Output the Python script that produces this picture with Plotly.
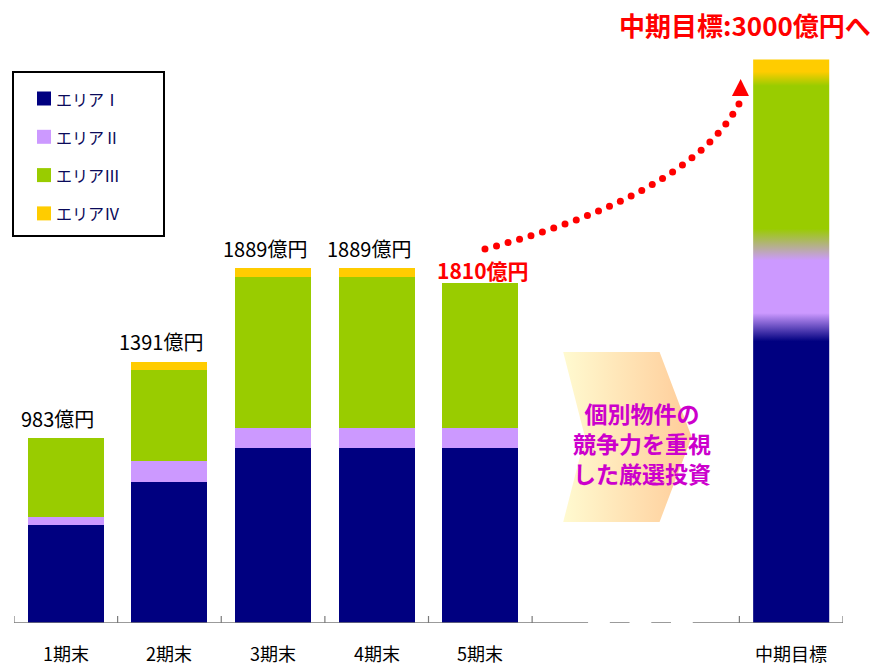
import numpy as np
import plotly.graph_objects as go

# ---- data (億円) ----
categories = ["1期末", "2期末", "3期末", "4期末", "5期末", "中期目標"]
cat_pos = [0, 1, 2, 3, 4, 7]
series_names = ["エリアⅠ", "エリアⅡ", "エリアⅢ", "エリアⅣ"]
area1 = [524, 752, 932, 932, 932, 1500]
area2 = [39, 108, 108, 108, 108, 600]
area3 = [420, 488, 801, 801, 770, 750]
area4 = [0, 43, 48, 48, 0, 150]
totals = [983, 1391, 1889, 1889, 1810, 3000]

series = [area1, area2, area3, area4]
colors = ["#000080", "#CC99FF", "#99CC00", "#FFCC00"]

# ---- layout constants ----
W, H = 884, 666
ML, MR, MT, MB = 14, 41, 22, 43
X_RANGE = [-0.5, 7.5]
Y_RANGE = [0, 3200]
BAR_WIDTH = 0.734
FONT = "Noto Sans CJK JP"

plot_w = W - ML - MR
plot_h = H - MT - MB
px_per_x = plot_w / (X_RANGE[1] - X_RANGE[0])
px_per_y = plot_h / (Y_RANGE[1] - Y_RANGE[0])


def paper_x(p):
    return (p - ML) / plot_w


def paper_y(p):
    return (H - MB - p) / plot_h


fig = go.Figure()

# ---- stacked bars for the actual periods ----
n_actual = 5
for name, vals, col in zip(series_names, series, colors):
    fig.add_trace(go.Bar(
        x=cat_pos[:n_actual], y=vals[:n_actual], name=name,
        marker=dict(color=col, line=dict(width=0)),
        width=BAR_WIDTH, showlegend=False, hoverinfo="skip",
    ))

# ---- target bar: stacked segments blended with a vertical gradient ----
tgt = [s[-1] for s in series]
tgt_total = totals[-1]
c1 = tgt[0]
c2 = c1 + tgt[1]
c3 = c2 + tgt[2]
grad_stops = [
    (0, colors[0]), (c1, colors[0]), (c1 + 150, colors[1]),
    (c2 - 170, colors[1]), (c2, colors[2]),
    (c3 + 10, colors[2]), (c3 + 85, colors[3]), (tgt_total, colors[3]),
]
tx = cat_pos[-1]
hw = BAR_WIDTH / 2
fig.add_trace(go.Scatter(
    x=[tx - hw, tx + hw, tx + hw, tx - hw, tx - hw],
    y=[0, 0, tgt_total, tgt_total, 0],
    mode="lines", fill="toself", line=dict(width=0),
    fillgradient=dict(
        type="vertical", start=0, stop=tgt_total,
        colorscale=[[v / tgt_total, c] for v, c in grad_stops],
    ),
    showlegend=False, hoverinfo="skip",
))

# ---- chevron with message ----
chev_x = [4.80, 5.73, 6.04, 5.73, 4.80, 5.01, 4.80]
chev_y = [1443, 1443, 990, 538, 538, 990, 1443]
fig.add_trace(go.Scatter(
    x=chev_x, y=chev_y, mode="lines", fill="toself", line=dict(width=0),
    fillgradient=dict(type="horizontal", start=4.80, stop=6.04,
                      colorscale=[[0, "#FFFAD0"], [1, "#FFCC99"]]),
    showlegend=False, hoverinfo="skip",
))

# ---- dotted curved arrow toward the target ----
p0 = np.array([cat_pos[4] + 0.045, totals[4] + 181.0])
p2 = np.array([cat_pos[5] - 0.504, totals[5] - 237.0])
p1 = np.array([p2[0] - 0.472, p0[1] + 293.0])
t = np.linspace(0, 1, 2001)[:, None]
curve = (1 - t) ** 2 * p0 + 2 * (1 - t) * t * p1 + t ** 2 * p2
cx_px = curve[:, 0] * px_per_x
cy_px = curve[:, 1] * px_per_y
seg = np.hypot(np.diff(cx_px), np.diff(cy_px))
arc = np.concatenate([[0], np.cumsum(seg)])
s = np.linspace(0, arc[-1], 26)
dots_x = np.interp(s, arc, curve[:, 0])
dots_y = np.interp(s, arc, curve[:, 1])
fig.add_trace(go.Scatter(
    x=dots_x, y=dots_y, mode="markers",
    marker=dict(size=7, color="#FF0000", line=dict(width=0)),
    showlegend=False, hoverinfo="skip",
))
base_cx = p2[0] + 1.5 / px_per_x
base_cy = p2[1] + 8 / px_per_y
head_hw = 8.5 / px_per_x
head_h = 17 / px_per_y
fig.add_trace(go.Scatter(
    x=[base_cx - head_hw, base_cx + head_hw, base_cx + 0.2 / px_per_x, base_cx - head_hw],
    y=[base_cy, base_cy, base_cy + head_h, base_cy],
    mode="lines", fill="toself", fillcolor="#FF0000", line=dict(width=0),
    showlegend=False, hoverinfo="skip",
))

shapes = []
annotations = []

# ---- broken category axis ----
axis_color = "#7A7A7A"
for a, b in [(-0.5, 5.04), (5.25, 5.44), (5.65, 5.84), (6.05, 7.5)]:
    shapes.append(dict(type="line", xref="x", yref="y", x0=a, x1=b, y0=0, y1=0,
                       line=dict(color=axis_color, width=1.5)))
tick_len = 7 / px_per_y
for xt in [-0.5, 0.5, 1.5, 2.5, 3.5, 4.5, 6.5, 7.5]:
    shapes.append(dict(type="line", xref="x", yref="y", x0=xt, x1=xt, y0=0, y1=tick_len,
                       line=dict(color=axis_color, width=1.2)))

for cp, cat in zip(cat_pos, categories):
    annotations.append(dict(x=cp, y=0, xref="x", yref="y", text=cat, showarrow=False,
                            yanchor="middle", yshift=-30,
                            font=dict(family=FONT, size=18, color="#000000")))

# ---- total labels ----
for i in range(n_actual):
    last = i == n_actual - 1
    annotations.append(dict(
        x=cat_pos[i], y=totals[i], xref="x", yref="y",
        text=f"{totals[i]}億円", showarrow=False, yanchor="middle",
        xshift=3 if last else -8, yshift=13 if last else 20,
        font=dict(family=FONT, size=21 if last else 20,
                  color="#FF0000" if last else "#000000",
                  weight=700 if last else 400),
    ))

annotations.append(dict(
    x=paper_x(745), y=1, xref="paper", yref="paper", yshift=-2,
    text=f"中期目標:{totals[-1]}億円へ", showarrow=False,
    xanchor="center", yanchor="middle",
    font=dict(family=FONT, size=26, color="#FF0000", weight=700),
))

annotations.append(dict(
    x=5.56, y=958, xref="x", yref="y", showarrow=False,
    xanchor="center", yanchor="middle",
    text="個別物件の<br>競争力を重視<br>した厳選投資",
    font=dict(family=FONT, size=23, color="#CC00CC", weight=700),
))

# ---- legend ----
shapes.append(dict(type="rect", xref="paper", yref="paper",
                   x0=paper_x(13), x1=paper_x(164), y0=paper_y(236), y1=paper_y(72),
                   line=dict(color="#000000", width=2), fillcolor="rgba(0,0,0,0)"))
for k, (name, col) in enumerate(zip(series_names, colors)):
    cy = 98.5 + k * 38.3
    shapes.append(dict(type="rect", xref="paper", yref="paper",
                       x0=paper_x(37), x1=paper_x(51), y0=paper_y(cy + 7), y1=paper_y(cy - 7),
                       line=dict(width=0), fillcolor=col))
    annotations.append(dict(x=paper_x(54), y=paper_y(cy), xref="paper", yref="paper",
                            text=name, showarrow=False, xanchor="left", yanchor="middle",
                            font=dict(family=FONT, size=16, color="#0A0A5A")))

fig.update_layout(
    width=W, height=H,
    margin=dict(l=ML, r=MR, t=MT, b=MB),
    barmode="stack", bargap=0,
    paper_bgcolor="#FFFFFF", plot_bgcolor="#FFFFFF",
    font=dict(family=FONT),
    showlegend=False,
    shapes=shapes, annotations=annotations,
    xaxis=dict(range=X_RANGE, visible=False, fixedrange=True),
    yaxis=dict(range=Y_RANGE, visible=False, fixedrange=True),
)

fig.write_html("out.html")
